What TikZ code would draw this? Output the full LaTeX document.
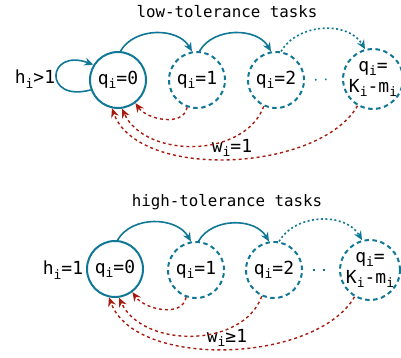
\documentclass[tikz,border=0pt]{standalone}
\usepackage{fontspec}
\setmainfont{DejaVu Sans Mono}
\usepackage{xcolor}
\usepackage{tikz}
\usetikzlibrary{arrows.meta}

\definecolor{tealc}{RGB}{16,120,150}
\definecolor{redc}{RGB}{168,28,16}
\newcommand{\lo}[1]{\raisebox{-0.45ex}{\fontsize{13}{14}\selectfont #1}}

\begin{document}
\begin{tikzpicture}[x=1pt, y=1pt, font=\fontsize{18}{21}\selectfont,
	state/.style={circle, draw=tealc, line width=2pt, minimum size=56pt, inner sep=0pt},
	ghost/.style={state, dash pattern=on 4.5pt off 3.5pt, line width=2pt},
	title/.style={font=\fontsize{15.8}{19}\selectfont},
	fwd/.style={tealc, line width=1.6pt, -{Stealth[length=9pt,width=8pt]}},
	fwddot/.style={fwd, dash pattern=on 2pt off 2.5pt},
	dotline/.style={tealc, line width=1.6pt, dash pattern=on 1.6pt off 8.4pt, shorten <=10pt, shorten >=10pt},
	back/.style={redc, line width=1.4pt, dash pattern=on 3pt off 3pt, -{Stealth[length=9pt,width=8pt]}}]
			\useasboundingbox (0,0) rectangle (401,-358);

			% low tolerance
			\node[title] (at) at (227,-12) {low-tolerance tasks};
			\node[state] (a0) at (118,-80) {q\lo{i}=0};
			\node[ghost] (a1) at (197,-80) {q\lo{i}=1};
			\node[ghost] (a2) at (276,-80) {q\lo{i}=2};
			\node[ghost, align=center] (ak) at (373,-79) {q\lo{i}=\\K\lo{i}-m\lo{i}};
			\node (ah) at (35,-79) {h\lo{i}>1};
			\node (aw) at (232,-148) {w\lo{i}=1};

			\draw[fwd] (a0.200) to[out=195,in=160,looseness=5] (a0.148);
			\draw[fwd] (a0.85) to[out=60,in=120] (a1.100);
			\draw[fwd] (a1.85) to[out=60,in=120] (a2.100);
			\draw[fwddot] (a2.80) to[out=60,in=120] (ak.105);
			\draw[dotline] (a2.east) -- (ak.west);
			\draw[back] (a1.250) to[out=-100,in=-55] (a0.307);
			\draw[back] (a2.245) to[out=-110,in=-65] (a0.278);
			\draw[back] (ak.240) to[out=-120,in=-70,looseness=0.8] (a0.258);

			% high tolerance
			\node[title] (bt) at (227,-202) {high-tolerance tasks};
			\node[state] (b0) at (115,-269) {q\lo{i}=0};
			\node[ghost] (b1) at (196,-270) {q\lo{i}=1};
			\node[ghost] (b2) at (274,-270) {q\lo{i}=2};
			\node[ghost, align=center] (bk) at (370,-270) {q\lo{i}=\\K\lo{i}-m\lo{i}};
			\node (bh) at (63,-270) {h\lo{i}=1};
			\node (bw) at (227,-338) {w\lo{i}≥1};

			\draw[fwd] (b0.85) to[out=60,in=120] (b1.100);
			\draw[fwd] (b1.85) to[out=60,in=120] (b2.100);
			\draw[fwddot] (b2.80) to[out=60,in=120] (bk.105);
			\draw[dotline] (b2.east) -- (bk.west);
			\draw[back] (b1.250) to[out=-100,in=-55] (b0.307);
			\draw[back] (b2.245) to[out=-110,in=-65] (b0.278);
			\draw[back] (bk.240) to[out=-120,in=-70,looseness=0.8] (b0.258);
\end{tikzpicture}
\end{document}
